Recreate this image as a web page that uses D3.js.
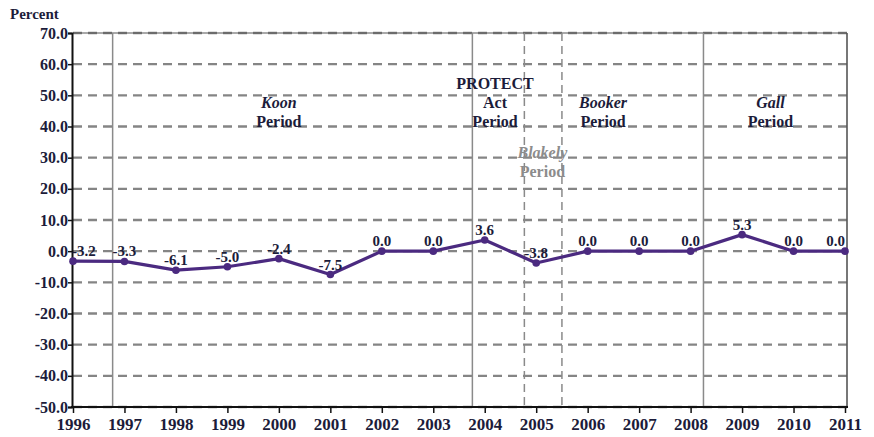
<!DOCTYPE html>
<html>
<head>
<meta charset="utf-8">
<script src="https://cdn.jsdelivr.net/npm/d3@7"></script>
<style>
  html, body { margin: 0; padding: 0; background: #fff; }
  svg { display: block; }
  text { font-family: "Liberation Serif", "Times New Roman", serif; font-weight: bold; fill: #1c1c3a; }
</style>
</head>
<body>
<svg id="chart" width="874" height="437"></svg>
<script>
// Yearly percent change
const years = [1996, 1997, 1998, 1999, 2000, 2001, 2002, 2003, 2004, 2005, 2006, 2007, 2008, 2009, 2010, 2011];
const values = [-3.2, -3.3, -6.1, -5.0, -2.4, -7.5, 0.0, 0.0, 3.6, -3.8, 0.0, 0.0, 0.0, 5.3, 0.0, 0.0];
const yTicks = [70, 60, 50, 40, 30, 20, 10, 0, -10, -20, -30, -40, -50];

// Boundaries between legal periods (fractional year positions)
const solidBoundaries = [1996.77, 2003.76, 2008.25];
const dashedBoundaries = [2004.77, 2005.5];

// Period annotations: x position (year), lines of text, style
const periodLabels = [
  { year: 2000, lines: [["Koon", "italic"], ["Period", "normal"]], top: 0, color: "#1c1c3a" },
  { year: 2004.2, lines: [["PROTECT", "normal"], ["Act", "normal"], ["Period", "normal"]], top: -1, color: "#1c1c3a" },
  { year: 2005.12, lines: [["Blakely", "italic"], ["Period", "normal"]], top: 2.65, color: "#8c8c8c" },
  { year: 2006.3, lines: [["Booker", "italic"], ["Period", "normal"]], top: 0, color: "#1c1c3a" },
  { year: 2009.55, lines: [["Gall", "italic"], ["Period", "normal"]], top: 0, color: "#1c1c3a" }
];

const fmt = v => v.toFixed(1);

const svg = d3.select("#chart");
const x = d3.scaleLinear().domain([1996, 2011]).range([73, 845]);
const y = d3.scaleLinear().domain([-50, 70]).range([407, 33]);

// Horizontal dashed gridlines
svg.append("g")
  .selectAll("line")
  .data(yTicks)
  .join("line")
  .attr("x1", x(1996)).attr("x2", x(2011) + 2)
  .attr("y1", d => y(d)).attr("y2", d => y(d))
  .attr("stroke", "#858585")
  .attr("stroke-width", 2.4)
  .attr("stroke-dasharray", "9,6");

// Frame top and right
svg.append("line")
  .attr("x1", x(1996)).attr("x2", x(2011) + 2)
  .attr("y1", y(70)).attr("y2", y(70))
  .attr("stroke", "#555").attr("stroke-width", 1.2);
svg.append("line")
  .attr("x1", x(2011) + 2).attr("x2", x(2011) + 2)
  .attr("y1", y(70)).attr("y2", y(-50))
  .attr("stroke", "#555").attr("stroke-width", 1.6);

// Period boundary lines
svg.append("g")
  .selectAll("line")
  .data(solidBoundaries)
  .join("line")
  .attr("x1", d => x(d)).attr("x2", d => x(d))
  .attr("y1", y(70)).attr("y2", y(-50))
  .attr("stroke", "#8a8a8a")
  .attr("stroke-width", 1.5);
svg.append("g")
  .selectAll("line")
  .data(dashedBoundaries)
  .join("line")
  .attr("x1", d => x(d)).attr("x2", d => x(d))
  .attr("y1", y(70)).attr("y2", y(-50))
  .attr("stroke", "#8a8a8a")
  .attr("stroke-width", 1.5)
  .attr("stroke-dasharray", "8,5");

// Axes
const yAxis = d3.axisLeft(y).tickValues(yTicks).tickSize(4).tickFormat(fmt);
const yg = svg.append("g").attr("transform", `translate(${x(1996) - 1},0)`).call(yAxis);
yg.select(".domain").attr("stroke", "#111").attr("stroke-width", 2);
yg.selectAll(".tick line").attr("stroke", "#111").attr("stroke-width", 1.5);
yg.selectAll(".tick text")
  .attr("x", -4)
  .style("font-size", "16px")
  .attr("fill", "#1c1c3a")
  .style("font-family", "'Liberation Serif', serif")
  .style("font-weight", "bold");

const xAxis = d3.axisBottom(x).tickValues(years).tickSize(6).tickFormat(d3.format("d"));
const xg = svg.append("g").attr("transform", `translate(0,${y(-50)})`).call(xAxis);
xg.select(".domain").attr("stroke", "#111").attr("stroke-width", 2).attr("d", `M${x(1996) - 2},0H${x(2011) + 3}`);
xg.selectAll(".tick line").attr("stroke", "#111").attr("stroke-width", 1.5);
xg.selectAll(".tick text")
  .attr("y", 11)
  .style("font-size", "17px")
  .attr("fill", "#1c1c3a")
  .style("font-family", "'Liberation Serif', serif")
  .style("font-weight", "bold");

// Axis title
svg.append("text")
  .attr("x", 10).attr("y", 19)
  .style("font-size", "15px")
  .text("Percent");

// Period annotations
periodLabels.forEach(p => {
  const t = svg.append("text")
    .attr("text-anchor", "middle")
    .style("font-size", "16px")
    .attr("fill", p.color);
  p.lines.forEach(([txt, style], i) => {
    t.append("tspan")
      .attr("x", x(p.year))
      .attr("y", 108 + (p.top + i) * 19)
      .style("font-style", style)
      .attr("fill", p.color)
      .text(txt);
  });
});

// Data line
const pts = years.map((yr, i) => ({ yr, v: values[i] }));
svg.append("path")
  .datum(pts)
  .attr("fill", "none")
  .attr("stroke", "#4b2a80")
  .attr("stroke-width", 3.2)
  .attr("stroke-linejoin", "round")
  .attr("d", d3.line().x(d => x(d.yr)).y(d => y(d.v)));

svg.append("g")
  .selectAll("circle")
  .data(pts)
  .join("circle")
  .attr("cx", d => x(d.yr))
  .attr("cy", d => y(d.v))
  .attr("r", 3.8)
  .attr("fill", "#4b2a80");

// Value labels
svg.append("g")
  .selectAll("text")
  .data(pts)
  .join("text")
  .attr("x", (d, i) => x(d.yr) + (i === 0 ? -1 : 0))
  .attr("y", d => y(d.v) - 5)
  .attr("text-anchor", (d, i) => i === 0 ? "start" : (i === pts.length - 1 ? "end" : "middle"))
  .style("font-size", "15px")
  .text(d => fmt(d.v));
</script>
</body>
</html>
